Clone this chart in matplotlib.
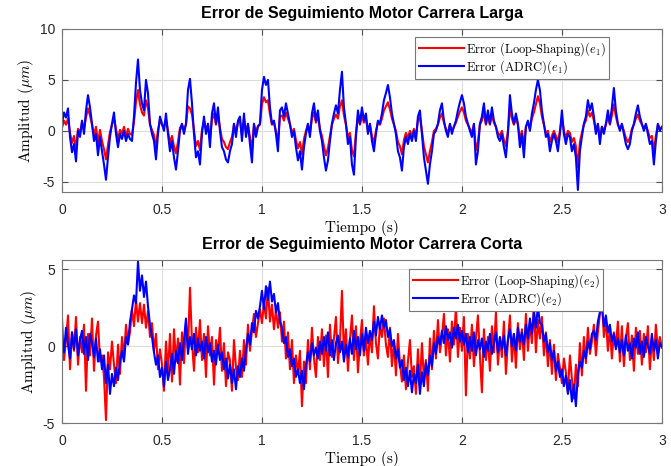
import numpy as np
import matplotlib
matplotlib.use("Agg")
import matplotlib.pyplot as plt

# sample step of the traces (s)
dt = 0.01

# Motor carrera larga: error loop-shaping (e1), 0..3 s every 10 ms
ls_e1 = [
    0.3, 1.0, 0.6, 1.2, -0.2, -1.2, -0.5, -1.8, 0.2, -0.2,
    0.8, 0.2, 1.3, 2.2, 1.5, 0.6, -0.4, 0.4, -1.2, 0.1,
    -1.0, -1.8, -2.8, -1.4, -0.1, 0.6, 1.2, 0.2, -0.8, 0.1,
    -0.3, 0.4, -0.5, 0.2, -0.3, -0.4, 0.9, 2.8, 4.0, 2.6,
    1.8, 1.5, 3.0, 2.2, 0.6, 0.1, -0.4, -1.6, 0.1, 1.0,
    0.6, 0.3, 1.1, 0.0, -1.2, -0.5, -1.5, -2.2, -1.1, 0.3,
    0.6, 0.1, 0.6, 2.4, 2.2, 1.6, 0.1, -1.5, -1.0, -1.9,
    0.1, 1.0, 0.1, 0.6, -0.8, 1.1, 1.7, 0.6, 1.5, 0.3,
    -0.8, -1.1, -1.6, -1.8, -1.1, -0.6, 0.6, -0.1, 0.8, 1.0,
    -0.4, 1.2, -0.1, 0.6, -0.6, -1.8, 0.6, -0.1, 0.5, 0.6,
    2.6, 3.3, 2.8, 3.0, 1.6, 0.6, 0.8, 0.0, -1.1, 1.4,
    1.5, 1.0, 1.8, 1.2, 0.6, -0.2, 0.2, -0.9, -1.7, -1.1,
    -2.3, -0.8, 0.0, 0.6, -0.2, 1.2, 1.8, 0.8, 1.4, 0.2,
    -0.5, -1.5, -2.4, -1.7, -0.5, 0.6, 1.2, 1.6, 1.2, 2.4,
    3.0, 1.5, 0.6, -0.6, -0.2, -1.9, -2.5, -0.2, 1.4, 0.6,
    1.5, 0.8, 1.2, 0.0, 0.6, -0.5, -1.2, 0.0, 0.8, 0.6,
    1.2, 2.0, 2.4, 2.8, 2.1, 1.2, 0.6, 0.0, -1.1, -1.5,
    -2.3, -0.9, -0.2, -0.7, 0.0, -0.5, 0.2, -0.5, 1.0, 1.3,
    0.0, -1.5, -2.3, -3.1, -2.0, -1.1, 0.0, 0.2, 0.6, 1.3,
    1.7, 0.8, 0.2, -0.2, 0.6, 0.0, 0.4, 0.8, 1.4, 1.9,
    2.3, 1.8, 1.0, 0.6, 0.2, -0.2, 0.6, -1.9, -1.1, 0.6,
    1.0, 1.8, 0.6, 1.4, 0.6, 1.5, 0.8, 0.4, -0.2, -0.5,
    0.0, -0.9, -1.5, 0.0, 2.2, 1.2, 0.6, 1.2, 0.6, -0.8,
    0.0, -1.5, 0.4, 0.8, 0.2, 1.2, 1.8, 2.6, 3.4, 2.7,
    1.4, 0.6, -0.2, 0.0, -1.1, -0.5, 0.0, -0.5, -1.1, 0.0,
    1.3, 0.0, -0.7, 0.0, -0.2, -1.1, -0.7, -1.5, -3.6, -1.1,
    -0.2, 0.6, 1.0, 2.0, 1.4, 1.8, 1.0, 0.0, 0.6, -0.7,
    0.4, 0.0, 0.6, 1.4, 0.6, 1.5, 2.6, 1.4, 0.6, 0.2,
    0.6, 0.0, -0.7, -1.1, -0.7, 0.2, 0.6, 1.2, 1.6, 1.0,
    0.6, 0.2, 0.6, 0.0, -0.7, -0.5, -2.0, -0.5, 0.6, 0.2,
    0.3,
]

# Motor carrera larga: error ADRC (e1)
adrc_e1 = [
    0.7, 1.8, 1.3, 2.2, -0.6, -2.1, -1.3, -3.0, 0.0, -0.6,
    1.0, -0.3, 2.0, 3.5, 2.3, 0.7, -1.0, -0.3, -2.4, -0.6,
    -2.0, -3.3, -4.8, -2.6, -0.6, 0.7, 1.8, -0.3, -1.6, -0.3,
    -0.8, 0.0, -1.0, -0.3, -0.8, -1.0, 1.4, 4.7, 7.0, 4.0,
    2.7, 2.0, 5.0, 3.7, 0.7, -0.3, -1.0, -2.8, -0.3, 1.4,
    0.7, 0.0, 1.7, -0.3, -2.0, -1.0, -2.6, -3.8, -2.0, 0.0,
    0.7, -0.3, 0.7, 4.0, 5.1, 2.7, -0.3, -2.6, -2.0, -3.3,
    -0.3, 1.4, -0.3, 0.7, -1.6, 1.7, 2.7, 0.7, 2.3, 0.0,
    -1.6, -2.0, -2.8, -3.1, -2.0, -1.3, 0.7, -0.6, 1.0, 1.4,
    -1.0, 1.7, -0.6, 0.7, -1.3, -3.1, 0.7, -0.6, 0.4, 0.7,
    4.0, 5.3, 4.5, 5.0, 2.3, 0.7, 1.0, -0.3, -2.0, 2.0,
    2.3, 1.4, 2.7, 1.7, 0.7, -0.6, 0.0, -1.6, -2.9, -2.0,
    -3.8, -1.6, -0.3, 0.7, -0.6, 1.7, 2.7, 1.0, 2.0, 0.0,
    -1.0, -2.6, -3.9, -2.9, -1.0, 0.7, 1.7, 2.5, 1.7, 4.0,
    5.8, 2.3, 0.7, -1.3, -0.6, -3.3, -4.3, -0.6, 2.0, 0.7,
    2.3, 1.0, 1.7, -0.3, 0.7, -1.0, -2.0, -0.3, 1.0, 0.7,
    1.7, 3.0, 3.7, 4.5, 3.3, 1.7, 0.7, -0.3, -2.0, -2.6,
    -3.9, -1.6, -0.6, -1.3, -0.3, -1.0, 0.0, -1.0, 1.4, 2.0,
    -0.3, -2.6, -3.9, -5.2, -3.3, -2.0, -0.3, 0.0, 0.7, 2.0,
    2.7, 1.0, 0.0, -0.6, 0.7, -0.3, 0.4, 1.0, 2.0, 2.8,
    3.5, 2.7, 1.4, 0.7, 0.0, -0.6, 0.7, -3.3, -2.0, 0.7,
    1.4, 2.7, 0.7, 2.0, 0.7, 2.3, 1.0, 0.4, -0.6, -1.0,
    -0.3, -1.6, -2.6, -0.3, 3.5, 1.7, 0.7, 1.7, 0.7, -1.6,
    -0.3, -2.6, 0.4, 1.0, 0.0, 1.7, 2.7, 4.0, 5.0, 4.0,
    2.0, 0.7, -0.6, -0.3, -2.0, -1.0, -0.3, -1.0, -2.0, -0.3,
    2.0, -0.3, -1.3, -0.3, -0.6, -2.0, -1.3, -2.6, -5.8, -2.0,
    -0.6, 0.7, 1.4, 3.0, 2.0, 2.7, 1.4, -0.3, 0.7, -1.3,
    0.4, -0.3, 0.7, 2.0, 0.7, 2.3, 4.2, 2.0, 0.7, 0.0,
    0.7, -0.3, -1.3, -1.8, -1.3, 0.0, 0.7, 1.7, 2.5, 1.4,
    0.7, 0.0, 0.7, -0.3, -1.3, -1.0, -3.3, -1.0, 0.7, 0.0,
    0.4,
]

# Motor carrera corta: error loop-shaping (e2)
ls_e2 = [
    1.8, -0.9, 0.4, 2.0, -1.5, 0.9, -0.3, 1.9, -1.2, 0.6,
    -0.4, 1.4, -2.9, 0.8, -0.6, 1.8, -1.6, 0.7, 1.6, -1.0,
    -0.6, -2.0, -4.8, -0.4, -1.5, 0.3, -1.2, -2.4, 0.1, -1.8,
    0.6, -0.8, 1.4, 0.2, 0.9, 2.4, 1.3, 3.0, 1.6, 2.8,
    1.5, 2.7, 1.2, 2.3, 0.6, 1.5, -0.3, 0.8, -1.5, -0.2,
    -1.2, -2.9, 0.3, -1.7, 0.8, -2.3, 1.1, -1.0, 0.5, -2.5,
    0.9, -1.1, 1.5, -0.2, 3.8, 0.3, -1.6, 1.2, -0.4, 1.7,
    -0.9, 0.8, -2.0, 1.3, -0.6, 0.6, -2.5, 0.4, -0.5, 1.2,
    -1.6, 0.2, -2.6, -0.4, -0.9, -2.9, 0.4, -1.4, -2.2, -0.3,
    -2.0, 0.4, -1.2, 1.4, -0.3, 1.0, 2.1, 0.6, 1.5, 2.4,
    1.5, 2.8, 1.8, 3.8, 1.6, 2.7, 1.1, 2.4, 1.2, 2.2,
    0.3, 1.6, -0.8, 0.9, -1.5, 0.4, -2.4, -0.6, -1.8, -0.3,
    -3.9, -1.0, -2.4, 0.4, -1.5, 1.2, -0.8, -2.0, 0.6, -0.9,
    1.1, -1.3, 0.7, -2.0, 1.4, -0.7, 0.5, 1.9, -1.1, 0.3,
    3.6, -0.5, 1.1, -1.6, 0.4, 2.0, -0.9, 1.3, -1.7, 0.2,
    1.7, -0.6, 0.5, -1.2, 0.9, -0.4, 2.6, 0.2, -0.8, 1.4,
    0.6, 1.8, 0.1, -0.7, 1.2, -1.3, 0.3, -1.9, 0.8, -1.1,
    -2.3, -0.6, -2.8, -1.0, 0.4, -2.0, -1.3, -3.1, -0.2, -2.6,
    0.2, -2.2, -0.9, -2.9, 0.5, -1.5, 1.0, -0.8, 1.7, -0.4,
    0.6, 2.1, -0.6, 1.1, -1.0, 1.6, 0.1, 2.6, -0.7, 1.2,
    -0.3, 1.9, -3.2, 0.8, -0.8, 1.4, -1.3, 0.5, 2.0, -0.6,
    -3.0, 1.1, -0.9, 0.6, -1.6, 1.3, -0.4, 2.2, -1.2, 0.5,
    -0.7, 1.6, -1.8, 0.3, 2.0, -1.0, 0.8, -1.4, 1.5, -0.2,
    1.1, -0.9, 2.1, -0.3, 1.5, 0.2, 2.7, -0.4, 1.7, 0.5,
    1.9, -0.6, 0.9, -1.3, 0.4, -1.8, 0.1, -2.2, -0.5, -1.4,
    -2.4, -0.8, -1.7, -3.0, -0.6, -2.1, -3.4, -1.2, -2.6, 0.2,
    -1.9, 0.6, -1.1, 1.2, -0.5, 0.3, 1.4, -0.6, 0.9, 2.1,
    3.0, 0.6, 1.8, -0.3, 1.2, -0.8, 0.9, 0.0, 1.6, -1.0,
    1.3, -1.3, 0.5, 1.5, -0.9, 0.7, -1.6, 1.2, -0.5, 1.0,
    -1.2, 0.8, -0.4, 1.3, -1.5, 0.5, -0.9, 1.4, -0.3, 0.6,
    -0.1,
]

# Motor carrera corta: error ADRC (e2)
adrc_e2 = [
    0.5, -0.4, 1.2, 0.1, -0.8, 0.9, -0.2, 1.1, -0.6, 0.4,
    1.0, -0.5, 0.6, -0.9, 0.8, 0.2, -0.7, 0.5, -1.0, -0.2,
    -1.5, -0.6, -2.4, -1.2, -3.1, -1.8, -2.6, -1.4, -2.2, -1.0,
    -0.3, -1.0, 0.6, 0.1, 1.6, 2.4, 3.3, 2.8, 5.5, 3.6,
    4.6, 3.2, 4.2, 2.6, 1.4, 0.6, -0.4, -1.2, -0.6, -2.0,
    -1.4, -2.6, -1.0, -2.2, -1.5, -0.5, -1.8, -0.3, -1.1, 0.2,
    -0.9, 0.4, 1.8, -0.5, 0.6, -0.2, 0.8, -0.6, 0.5, -0.3,
    0.3, -0.8, 0.6, -0.4, 0.2, -1.0, -0.3, -1.2, 0.1, -0.9,
    -0.4, -1.5, -0.8, -2.1, -1.2, -2.4, -1.5, -2.8, -1.3, -2.0,
    -0.8, -1.6, -0.2, 0.8, 0.1, 1.5, 0.9, 2.3, 1.8, 2.6,
    3.6, 2.4, 3.9, 3.0, 4.2, 2.9, 3.4, 2.2, 2.8, 1.6,
    1.2, 0.2, 0.6, -0.7, -0.2, -1.3, -0.8, -2.0, -1.5, -2.4,
    -1.6, -2.8, -1.2, -0.4, -1.0, 0.2, -0.6, -0.1, -0.8, 0.3,
    -0.5, 0.6, -0.3, 0.9, -0.6, 0.4, -0.9, 0.2, 0.7, -0.4,
    0.3, -1.0, 0.1, -0.7, 0.5, -0.5, 1.0, -0.2, 0.6, -0.6,
    0.8, -0.3, 1.2, 0.2, 1.0, 0.4, 1.6, 0.7, 1.9, 1.1,
    2.0, 1.2, 1.7, 0.6, 1.1, 0.0, 0.4, -0.8, -0.2, -1.4,
    -0.9, -2.2, -1.4, -2.6, -1.6, -3.0, -1.8, -2.4, -1.2, -3.1,
    -1.7, -2.6, -1.1, -1.9, -0.6, -1.3, 0.2, -0.5, 0.6, 0.1,
    1.0, 0.2, 1.3, 0.4, 0.9, -0.1, 1.2, 0.5, 1.4, 0.3,
    1.0, 0.1, 0.8, -0.4, 0.6, -0.3, 0.9, -0.6, 0.4, -0.2,
    0.5, -0.7, 0.3, -0.3, 0.8, -0.5, 0.2, 0.9, -0.4, 0.6,
    -0.2, 0.7, -0.6, 0.4, 1.1, 0.0, 0.8, -0.3, 1.2, 0.3,
    0.9, 0.1, 1.4, 0.5, 1.8, 0.8, 2.2, 1.2, 2.6, 1.5,
    1.4, 0.3, 0.8, -0.4, 0.2, -0.9, -0.3, -1.6, -1.0, -2.0,
    -1.5, -2.6, -1.9, -3.1, -2.2, -3.6, -2.5, -3.9, -1.8, -1.0,
    -1.4, -0.3, -0.8, 0.3, -0.2, 0.8, 1.0, 0.4, 1.6, 2.2,
    2.6, 1.3, 2.0, 0.9, 1.4, 0.3, 0.8, -0.2, 0.5, -0.4,
    0.4, -0.6, 0.7, -0.3, 0.2, -0.8, 0.5, -0.1, 0.9, -0.5,
    0.3, -0.7, 0.6, 0.0, -0.5, 0.8, -0.3, 0.4, -0.8, 0.2,
    0.0,
]

t = np.arange(len(adrc_e1)) * dt

plt.rcParams["mathtext.fontset"] = "cm"
serif = ["cmr10", "DejaVu Serif"]
sans = ["Liberation Sans", "DejaVu Sans"]

fig = plt.figure(figsize=(6.71, 4.66), dpi=100)
ax1 = fig.add_axes([0.0924, 0.588, 0.894, 0.350])
ax2 = fig.add_axes([0.0924, 0.092, 0.894, 0.350])

panels = [
    (ax1, ls_e1, adrc_e1, "Error de Seguimiento Motor Carrera Larga",
     (-6, 10), [-5, 0, 5, 10], "1", (0.912, 0.951)),
    (ax2, ls_e2, adrc_e2, "Error de Seguimiento Motor Carrera Corta",
     (-5, 5.6), [-5, 0, 5], "2", (0.902, 0.945)),
]

for ax, red, blue, title, ylim, yticks, k, anchor in panels:
    ax.plot(t, red, color="#ff0000", lw=1.5, label=r"Error (Loop-Shaping)($e_%s$)" % k)
    ax.plot(t, blue, color="#0000ff", lw=1.5, label=r"Error (ADRC)($e_%s$)" % k)
    ax.set_xlim(0, 3)
    ax.set_ylim(*ylim)
    ax.set_xticks([0, 0.5, 1, 1.5, 2, 2.5, 3])
    ax.set_xticklabels(["0", "0.5", "1", "1.5", "2", "2.5", "3"])
    ax.set_yticks(yticks)
    ax.set_yticklabels([str(v) for v in yticks])
    ax.grid(True, color="#dcdcdc", lw=0.8)
    ax.set_axisbelow(True)
    ax.tick_params(direction="in", length=4, top=True, right=True,
                   colors="#4d4d4d", labelsize=10, labelcolor="#262626")
    ax.tick_params(axis="x", pad=8)
    ax.tick_params(axis="y", pad=5)
    for lbl in ax.get_xticklabels() + ax.get_yticklabels():
        lbl.set_family(sans)
    for s in ax.spines.values():
        s.set_color("#777777")
        s.set_linewidth(0.8)
    ax.set_title(title, fontsize=11.5, fontweight="bold", family=sans, pad=8)
    ax.set_xlabel("Tiempo (s)", fontsize=11, family=serif, labelpad=2)
    ax.set_ylabel(r"Amplitud ($\mu m$)", fontsize=11, family=serif, labelpad=3)
    leg = ax.legend(loc="upper right", bbox_to_anchor=anchor, borderaxespad=0,
                    prop={"family": serif, "size": 9}, fancybox=False,
                    framealpha=1, edgecolor="#777777", handlelength=3.6,
                    borderpad=0.25, labelspacing=0.05, handletextpad=0.2)
    leg.get_frame().set_linewidth(0.8)

fig.savefig("out.png", dpi=100)
